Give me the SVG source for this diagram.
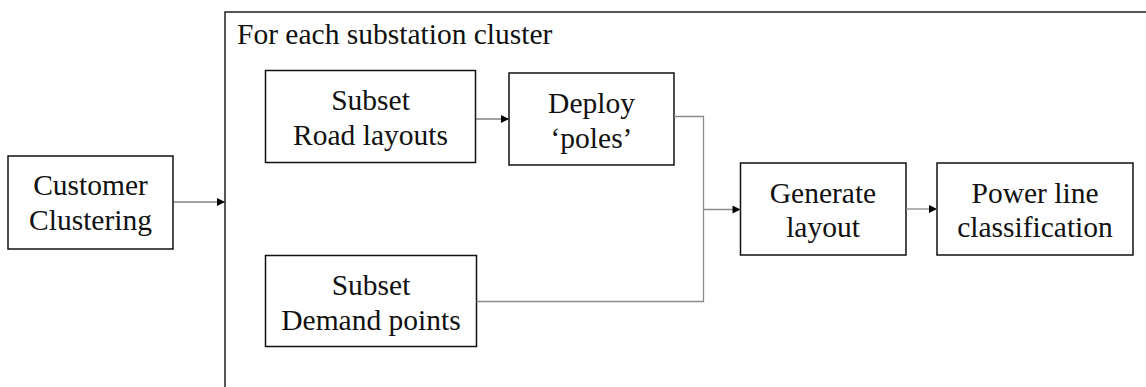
<svg xmlns="http://www.w3.org/2000/svg" width="1146" height="387" viewBox="0 0 1146 387">
  <defs>
    <marker id="arrow" viewBox="0 0 10 10" refX="10" refY="5" markerWidth="10" markerHeight="8" markerUnits="userSpaceOnUse" orient="auto">
      <path d="M0,0 L10,5 L0,10 z" fill="#000"/>
    </marker>
  </defs>
  <style>
    .box { fill: #fff; stroke: #111; stroke-width: 1.5; }
    .frame { fill: none; stroke: #111; stroke-width: 1.4; }
    text { font-size: 29.5px; fill: #111; }
    .label { text-anchor: middle; }
    .link { fill: none; stroke: #8a8a8a; stroke-width: 1.3; }
    .link-dark { fill: none; stroke: #444; stroke-width: 1.2; }
  </style>
  <rect width="1146" height="387" fill="#fff"/>

  <g font-family="'Liberation Serif', 'Times New Roman', 'DejaVu Serif', serif">
    <g id="cluster-frame">
      <rect class="frame" x="225" y="12" width="940" height="400"/>
      <text x="237" y="43.5">For each substation cluster</text>
    </g>

    <g id="customer-clustering">
      <rect class="box" x="8" y="156" width="165" height="93"/>
      <text class="label" x="90.5" y="195">Customer</text>
      <text class="label" x="90.5" y="230">Clustering</text>
    </g>

    <g id="subset-road">
      <rect class="box" x="265.5" y="70.5" width="210" height="92"/>
      <text class="label" x="370.5" y="110">Subset</text>
      <text class="label" x="370.5" y="145">Road layouts</text>
    </g>

    <g id="deploy-poles">
      <rect class="box" x="509" y="73" width="165" height="92"/>
      <text class="label" x="591.5" y="112.5">Deploy</text>
      <text class="label" x="591.5" y="147.5">‘poles’</text>
    </g>

    <g id="subset-demand">
      <rect class="box" x="265.5" y="255.5" width="211" height="91"/>
      <text class="label" x="371" y="295">Subset</text>
      <text class="label" x="371" y="330">Demand points</text>
    </g>

    <g id="generate-layout">
      <rect class="box" x="740.5" y="163" width="165.5" height="92"/>
      <text class="label" x="823" y="203">Generate</text>
      <text class="label" x="823" y="237">layout</text>
    </g>

    <g id="power-line-classification">
      <rect class="box" x="937" y="163" width="196" height="92"/>
      <text class="label" x="1035" y="203">Power line</text>
      <text class="label" x="1035" y="237">classification</text>
    </g>
  </g>

  <g id="connectors">
    <line class="link-dark" x1="173" y1="202" x2="225" y2="202" marker-end="url(#arrow)"/>
    <line class="link-dark" x1="475.5" y1="119" x2="509" y2="119" marker-end="url(#arrow)"/>
    <polyline class="link" points="674,116.5 703.5,116.5 703.5,301.5 476.5,301.5"/>
    <line class="link" x1="703.5" y1="209.5" x2="740.5" y2="209.5" marker-end="url(#arrow)"/>
    <line class="link" x1="906" y1="209" x2="937" y2="209" marker-end="url(#arrow)"/>
  </g>
</svg>
